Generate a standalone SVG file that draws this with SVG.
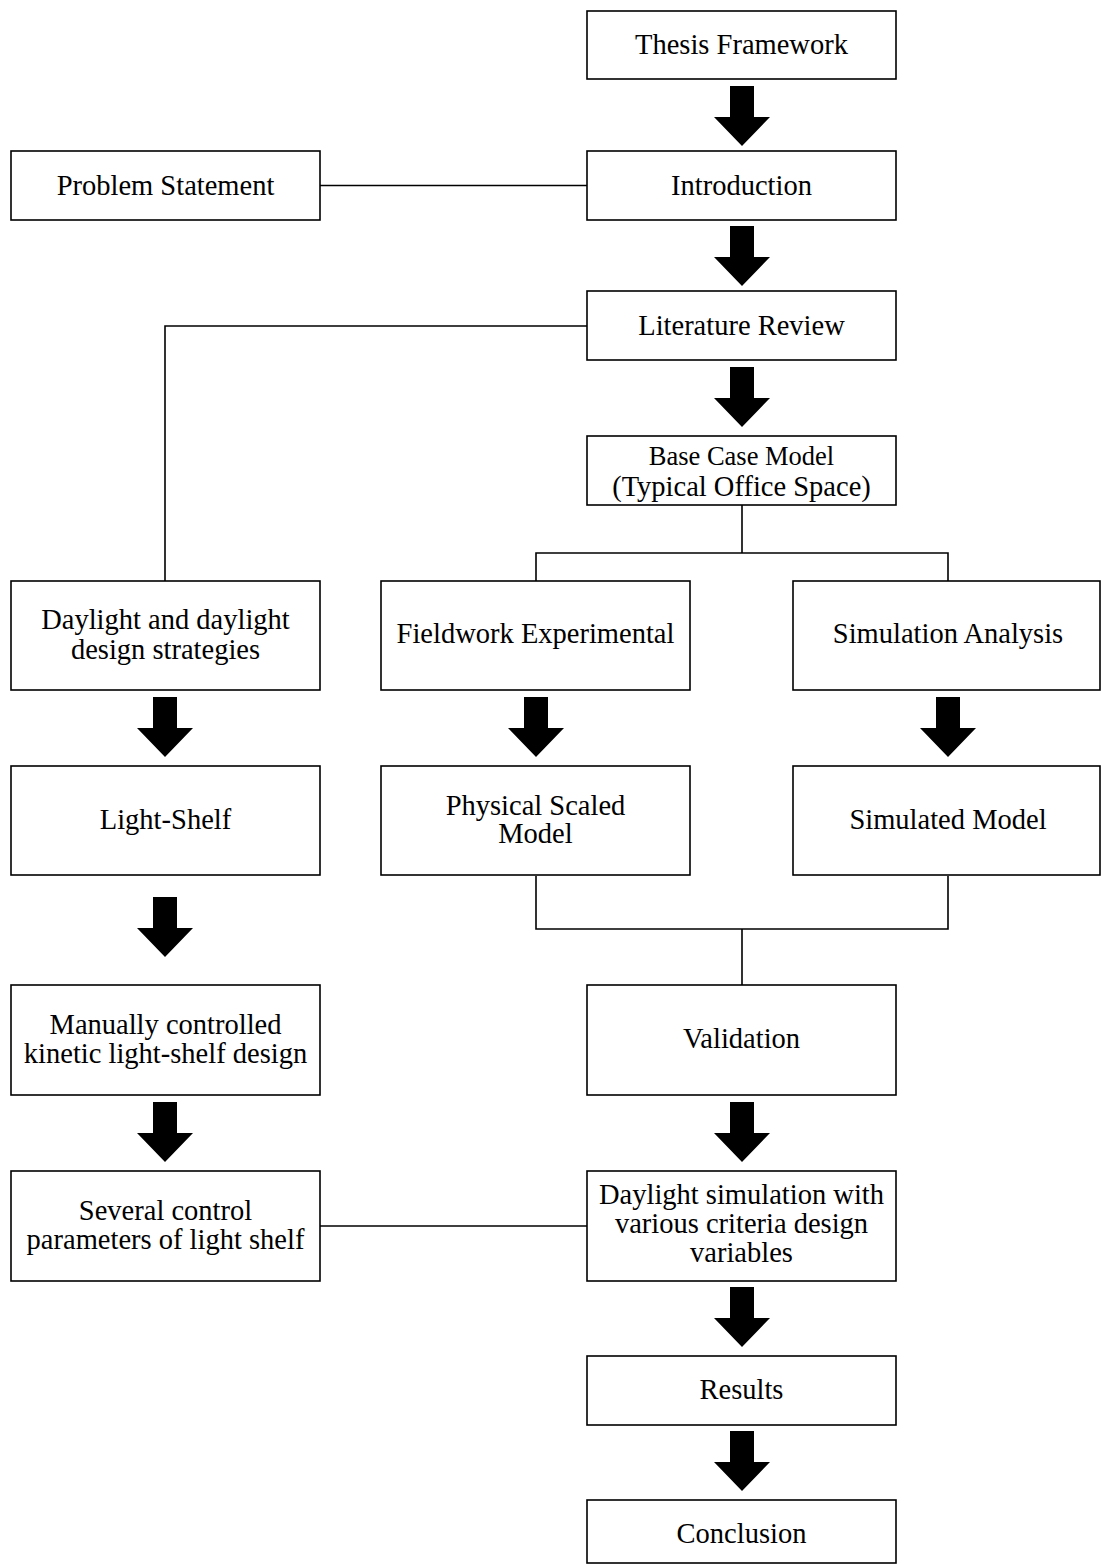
<svg xmlns="http://www.w3.org/2000/svg" width="1101" height="1564" viewBox="0 0 1101 1564">
<style>
.box{fill:#fff;stroke:#000;stroke-width:1.6}
.t{font-family:"Liberation Serif","Times New Roman",serif;font-size:28.5px;fill:#000;text-anchor:middle}
.s{font-size:26.5px}
.c{fill:none;stroke:#000;stroke-width:1.6}
.a{fill:#000}
</style>
<defs>
<path id="arr" d="M-12,0 H12 V31 H28 L0,60 L-28,31 H-12 Z"/>
</defs>
<rect width="1101" height="1564" fill="#fff"/>
<g id="connectors">
<path class="c" d="M320,185.5 H587"/>
<path class="c" d="M587,326 H165 V581"/>
<path class="c" d="M742,505 V553 M536,581 V553 H948 V581"/>
<path class="c" d="M536,876 V929 H948 V876 M742,929 V985"/>
<path class="c" d="M320,1226 H587"/>
<use href="#arr" class="a" x="742" y="86"/>
<use href="#arr" class="a" x="742" y="226"/>
<use href="#arr" class="a" x="742" y="367"/>
<use href="#arr" class="a" x="165" y="697"/>
<use href="#arr" class="a" x="536" y="697"/>
<use href="#arr" class="a" x="948" y="697"/>
<use href="#arr" class="a" x="165" y="897"/>
<use href="#arr" class="a" x="165" y="1102"/>
<use href="#arr" class="a" x="742" y="1102"/>
<use href="#arr" class="a" x="742" y="1287"/>
<use href="#arr" class="a" x="742" y="1431"/>
</g>
<g id="thesis"><rect class="box" x="587" y="11" width="309" height="68"/><text class="t" x="741.5" y="54">Thesis Framework</text></g>
<g id="problem"><rect class="box" x="11" y="151" width="309" height="69"/><text class="t" x="165.5" y="195">Problem Statement</text></g>
<g id="intro"><rect class="box" x="587" y="151" width="309" height="69"/><text class="t" x="741.5" y="195">Introduction</text></g>
<g id="literature"><rect class="box" x="587" y="291" width="309" height="69"/><text class="t" x="741.5" y="335">Literature Review</text></g>
<g id="basecase"><rect class="box" x="587" y="436" width="309" height="69"/><text class="t s" x="741.5" y="465">Base Case Model</text><text class="t" x="741.5" y="496">(Typical Office Space)</text></g>
<g id="daylight"><rect class="box" x="11" y="581" width="309" height="109"/><text class="t" x="165.5" y="629">Daylight and daylight</text><text class="t" x="165.5" y="659">design strategies</text></g>
<g id="fieldwork"><rect class="box" x="381" y="581" width="309" height="109"/><text class="t" x="535.5" y="643">Fieldwork Experimental</text></g>
<g id="simanalysis"><rect class="box" x="793" y="581" width="307" height="109"/><text class="t" x="948" y="643">Simulation Analysis</text></g>
<g id="lightshelf"><rect class="box" x="11" y="766" width="309" height="109"/><text class="t" x="165.5" y="829">Light-Shelf</text></g>
<g id="physical"><rect class="box" x="381" y="766" width="309" height="109"/><text class="t" x="535.5" y="815">Physical Scaled</text><text class="t" x="535.5" y="843">Model</text></g>
<g id="simulated"><rect class="box" x="793" y="766" width="307" height="109"/><text class="t" x="948" y="829">Simulated Model</text></g>
<g id="manual"><rect class="box" x="11" y="985" width="309" height="110"/><text class="t" x="165.5" y="1034">Manually controlled</text><text class="t" x="165.5" y="1063">kinetic light-shelf design</text></g>
<g id="validation"><rect class="box" x="587" y="985" width="309" height="110"/><text class="t" x="741.5" y="1048">Validation</text></g>
<g id="several"><rect class="box" x="11" y="1171" width="309" height="110"/><text class="t" x="165.5" y="1220">Several control</text><text class="t" x="165.5" y="1249">parameters of light shelf</text></g>
<g id="daysim"><rect class="box" x="587" y="1171" width="309" height="110"/><text class="t" x="741.5" y="1204">Daylight simulation with</text><text class="t" x="741.5" y="1233">various criteria design</text><text class="t" x="741.5" y="1262">variables</text></g>
<g id="results"><rect class="box" x="587" y="1356" width="309" height="69"/><text class="t" x="741.5" y="1399">Results</text></g>
<g id="conclusion"><rect class="box" x="587" y="1500" width="309" height="63"/><text class="t" x="741.5" y="1543">Conclusion</text></g>
</svg>
